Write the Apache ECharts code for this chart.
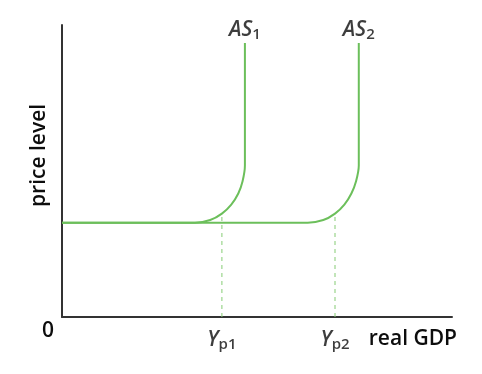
<!DOCTYPE html>
<html><head><meta charset="utf-8">
<script src="https://cdn.jsdelivr.net/npm/echarts@6/dist/echarts.min.js"></script>
<style>html,body{margin:0;padding:0;background:#fff}#c{width:482px;height:374px}</style>
</head><body><div id="c"></div>
<script>
// AS curves: [real GDP, price level] in 0..100 units
const as1 = [[0,32.3],[34.1,32.3],[38.0,33.2],[41.0,35.4],[43.4,38.5],[45.2,42.3],[46.3,46.5],[46.9,51.9],[46.9,93.8]];
const as2 = [[0,32.3],[63.0,32.3],[67.0,33.2],[70.0,35.4],[72.4,38.5],[74.2,42.3],[75.4,46.5],[76.1,51.9],[76.1,93.8]];
const potential = [41.0, 70.0];       // Yp1, Yp2
const potentialTop = 35.4;
const asNames = ['AS', 'AS'];
const asSubs = ['1', '2'];
const ypSubs = ['p1', 'p2'];

const green = '#6cbf5b';
const ink = '#0d0d0d';
const chart = echarts.init(document.getElementById('c'), null, {renderer:'canvas'});
const series = [];
[as1, as2].forEach((d, i) => {
  series.push({type:'line', data:d, symbol:'none', smooth:0.25, lineStyle:{color:green, width:2}, z:3});
});
potential.forEach((x, i) => {
  series.push({type:'line', data:[[x,0],[x,potentialTop]], symbol:'none',
    lineStyle:{color:'#86cc75', width:1, type:[4,4]}, z:2});
});
const F = '"Open Sans"';
const rich = {
  a:{fontFamily:F, fontSize:21, fontStyle:'italic', fontWeight:600, color:ink, lineHeight:22},
  s:{fontFamily:F, fontSize:15, fontWeight:600, color:ink, padding:[10,0,0,0], lineHeight:22},
  y:{fontFamily:F, fontSize:21, fontStyle:'italic', fontWeight:600, color:ink, lineHeight:22},
  p:{fontFamily:F, fontSize:15, fontWeight:600, color:ink, padding:[10,0,0,0], lineHeight:22}
};
series.push({type:'scatter', symbolSize:0, data:[as1[as1.length-1], as2[as2.length-1]],
  label:{show:true, position:'top', distance:2, rich:rich,
    formatter:(p)=>'{a|'+asNames[p.dataIndex]+'}{s|'+asSubs[p.dataIndex]+'}'}, silent:true});
series.push({type:'scatter', symbolSize:0, data:potential.map(x=>[x,0]),
  label:{show:true, position:'bottom', distance:12, rich:rich,
    formatter:(p)=>'{y|Y}{p|'+ypSubs[p.dataIndex]+'}'}, silent:true});

chart.setOption({
  animation:false,
  grid:{left:62, right:30, top:25, bottom:57},
  xAxis:{type:'value', min:0, max:100, splitLine:{show:false}, axisTick:{show:false}, axisLabel:{show:false},
    axisLine:{lineStyle:{color:'#333', width:2}}},
  yAxis:{type:'value', min:0, max:100, splitLine:{show:false}, axisTick:{show:false}, axisLabel:{show:false},
    axisLine:{lineStyle:{color:'#333', width:2}}},
  series:series,
  graphic:[
    {type:'text', left:42, top:321, style:{text:'0', font:'600 21px "Open Sans"', fill:ink}},
    {type:'text', right:25, top:329, style:{text:'real GDP', font:'600 21px "Open Sans"', fill:ink}},
    {type:'text', x:29, y:207, rotation:Math.PI/2, style:{text:'price level', font:'600 21px "Open Sans"', fill:ink}}
  ]
});
</script></body></html>
